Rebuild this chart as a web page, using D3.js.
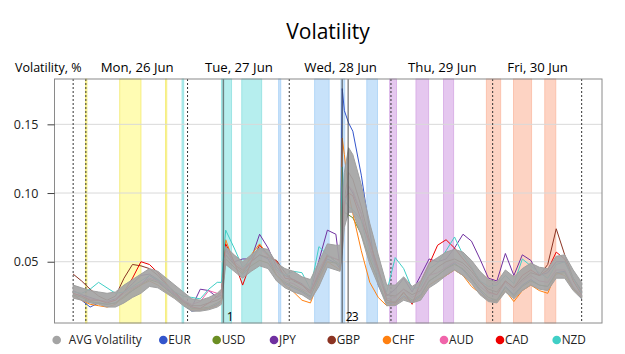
<!DOCTYPE html>
<html>
<head>
<meta charset="utf-8">
<script src="https://cdn.jsdelivr.net/npm/d3@7"></script>
<style>
body { margin: 0; background: #fff; }
text { font-family: "Segoe UI", "Open Sans", sans-serif; }
</style>
</head>
<body>
<div id="chart"></div>
<script>
////////////////////////////////////////////////////////////
///////////////////////// Data /////////////////////////////
////////////////////////////////////////////////////////////

//Hours from Mon 26 Jun 00:00
var hours = [-3,-1,1,3,5,7,9,11,13,15,17,19,21,23,25,27,29,31,32,33,35,37,39,41,43,45,47,49,51,53,55,57,59,60,60.5,61,62,63,65,67,69,71,73,75,77,79,81,83,85,87,89,91,93,95,97,99,101,103,105,107,109,111,113,115,117];

var dayNames = ["Mon, 26 Jun", "Tue, 27 Jun", "Wed, 28 Jun", "Thu, 29 Jun", "Fri, 30 Jun"];
var dataStart = -3, dataEnd = 117;
var dayLines = [-3, 0, 24, 48, 72, 96, 117];
var yTicks = [0.05, 0.10, 0.15];

//[start hour, end hour, day]
var sessionBands = [[-0.1,0.25,0],[8,13,0],[18.8,19.1,0],[22.7,23.1,1],[32,34.4,1],[36.8,41.5,1],[45.5,46,2],[54,57.4,2],[60.2,61.1,2],[66.3,68.8,2],[71.7,73.3,3],[77.9,80.9,3],[84.4,86.8,3],[94.5,97.9,4],[100.9,105.2,4],[108.3,110.9,4]];

var eventHours = [32.45, 60.5, 61.9];
var eventLabels = ["1", "2", "3"];

//Spread of the average volatility lines
var avgHigh = [0.033,0.031,0.029,0.028,0.027,0.028,0.033,0.037,0.041,0.045,
	0.043,0.038,0.033,0.028,0.023,0.022,0.024,0.027,0.030,0.061,
	0.055,0.050,0.055,0.060,0.059,0.049,0.045,0.043,0.039,0.037,
	0.050,0.063,0.062,0.062,0.085,0.115,0.133,0.128,0.106,0.078,
	0.055,0.033,0.033,0.039,0.032,0.036,0.049,0.053,0.057,0.059,
	0.057,0.051,0.043,0.037,0.035,0.044,0.039,0.045,0.049,0.046,
	0.045,0.054,0.055,0.044,0.035];
var avgLow = [0.0235,0.022,0.020,0.019,0.017,0.017,0.020,0.024,0.027,0.032,
	0.031,0.027,0.023,0.018,0.014,0.014,0.015,0.017,0.019,0.048,
	0.043,0.038,0.043,0.047,0.045,0.036,0.031,0.028,0.026,0.022,
	0.032,0.046,0.044,0.043,0.056,0.075,0.086,0.086,0.069,0.048,
	0.033,0.018,0.018,0.022,0.020,0.022,0.031,0.035,0.040,0.044,
	0.040,0.034,0.026,0.021,0.020,0.028,0.023,0.029,0.033,0.030,
	0.029,0.038,0.038,0.029,0.023];

var eur = [0.026,0.022,0.017,0.020,0.019,0.020,0.025,0.029,0.033,0.040,
	0.036,0.030,0.025,0.019,0.014,0.015,0.016,0.019,0.022,0.060,
	0.048,0.042,0.050,0.055,0.052,0.040,0.034,0.031,0.028,0.024,
	0.040,0.052,0.049,0.045,0.176,0.160,0.151,0.145,0.113,0.072,
	0.033,0.020,0.020,0.025,0.021,0.025,0.036,0.040,0.045,0.049,
	0.044,0.037,0.029,0.022,0.022,0.032,0.026,0.033,0.037,0.033,
	0.032,0.042,0.043,0.031,0.023];
var usd = [0.026,0.024,0.021,0.020,0.019,0.020,0.024,0.029,0.033,0.037,
	0.035,0.030,0.025,0.020,0.016,0.016,0.017,0.020,0.022,0.052,
	0.046,0.041,0.047,0.051,0.049,0.040,0.035,0.032,0.029,0.025,
	0.038,0.050,0.049,0.047,0.090,0.086,0.084,0.082,0.070,0.052,
	0.036,0.020,0.021,0.027,0.022,0.026,0.036,0.040,0.045,0.048,
	0.045,0.038,0.030,0.024,0.022,0.031,0.025,0.032,0.036,0.033,
	0.032,0.041,0.042,0.031,0.024];
var jpy = [0.029,0.026,0.024,0.022,0.021,0.023,0.028,0.034,0.040,0.041,
	0.037,0.031,0.026,0.021,0.017,0.030,0.029,0.024,0.026,0.058,
	0.050,0.052,0.052,0.070,0.060,0.046,0.040,0.037,0.034,0.028,
	0.051,0.073,0.070,0.045,0.060,0.090,0.105,0.100,0.085,0.060,
	0.042,0.025,0.030,0.038,0.028,0.040,0.052,0.050,0.052,0.060,
	0.070,0.065,0.052,0.038,0.036,0.056,0.040,0.055,0.051,0.040,
	0.042,0.050,0.050,0.038,0.028];
var gbp = [0.041,0.036,0.030,0.025,0.022,0.025,0.038,0.048,0.047,0.045,
	0.040,0.033,0.028,0.022,0.018,0.018,0.020,0.022,0.024,0.055,
	0.048,0.044,0.050,0.055,0.053,0.051,0.042,0.036,0.033,0.029,
	0.040,0.054,0.052,0.051,0.070,0.095,0.115,0.110,0.090,0.065,
	0.044,0.026,0.025,0.030,0.026,0.029,0.040,0.046,0.050,0.052,
	0.049,0.043,0.035,0.030,0.028,0.036,0.031,0.037,0.042,0.040,
	0.048,0.074,0.055,0.038,0.029];
var chf = [0.025,0.022,0.019,0.018,0.017,0.019,0.025,0.030,0.033,0.036,
	0.033,0.028,0.024,0.019,0.015,0.015,0.016,0.018,0.021,0.066,
	0.049,0.042,0.055,0.063,0.055,0.040,0.033,0.028,0.022,0.020,
	0.036,0.050,0.046,0.044,0.140,0.128,0.100,0.085,0.058,0.035,
	0.024,0.018,0.019,0.024,0.020,0.024,0.033,0.037,0.040,0.044,
	0.040,0.032,0.027,0.022,0.021,0.029,0.021,0.029,0.033,0.029,
	0.027,0.042,0.040,0.030,0.024];
var aud = [0.027,0.025,0.023,0.022,0.021,0.022,0.027,0.031,0.034,0.038,
	0.036,0.032,0.027,0.022,0.019,0.021,0.029,0.027,0.026,0.058,
	0.050,0.045,0.050,0.060,0.054,0.043,0.036,0.034,0.030,0.027,
	0.045,0.055,0.052,0.050,0.075,0.095,0.105,0.102,0.085,0.060,
	0.040,0.023,0.024,0.030,0.024,0.028,0.040,0.042,0.046,0.050,
	0.047,0.040,0.032,0.027,0.026,0.035,0.029,0.036,0.040,0.036,
	0.035,0.044,0.044,0.032,0.025];
var cad = [0.027,0.025,0.022,0.022,0.020,0.022,0.028,0.038,0.050,0.048,
	0.042,0.034,0.027,0.021,0.017,0.016,0.020,0.025,0.028,0.063,
	0.050,0.033,0.050,0.062,0.055,0.050,0.038,0.037,0.033,0.027,
	0.042,0.055,0.050,0.048,0.070,0.096,0.100,0.098,0.080,0.064,
	0.045,0.022,0.020,0.028,0.019,0.035,0.048,0.062,0.066,0.060,
	0.052,0.045,0.036,0.028,0.026,0.036,0.031,0.040,0.044,0.040,
	0.044,0.057,0.052,0.036,0.026];
var nzd = [0.028,0.027,0.030,0.035,0.031,0.027,0.028,0.032,0.036,0.040,
	0.037,0.033,0.028,0.025,0.024,0.023,0.030,0.035,0.035,0.073,
	0.060,0.046,0.052,0.060,0.056,0.044,0.040,0.043,0.042,0.030,
	0.061,0.055,0.050,0.048,0.119,0.095,0.090,0.088,0.080,0.055,
	0.040,0.028,0.053,0.045,0.030,0.032,0.045,0.049,0.058,0.068,
	0.055,0.046,0.036,0.032,0.033,0.040,0.034,0.052,0.047,0.042,
	0.038,0.048,0.050,0.038,0.027];

var currencyNames = ["EUR", "USD", "JPY", "GBP", "CHF", "AUD", "CAD", "NZD"];
var currencyValues = [eur, usd, jpy, gbp, chf, aud, cad, nzd];

////////////////////////////////////////////////////////////
///////////////////////// Set-up ///////////////////////////
////////////////////////////////////////////////////////////

var width = 625, height = 354;
var margin = {top: 79, right: 23, bottom: 31, left: 54.5};
var plotRight = width - margin.right,
	plotBottom = height - margin.bottom;

var currencyColors = ["#3355cc", "#6b8e23", "#7030a0", "#8b3322", "#ff8010", "#f064aa", "#ee0000", "#40cfc6"];
var avgColor = "#a4a4a4";
var bandFill = ["#fffcb3", "#b6eeee", "#c8e2fa", "#e5c7ef", "#fdd3c3"];
var bandEdge = ["#f3ea70", "#90e0e0", "#a9d1f6", "#d5a9e4", "#fbbca5"];

var svg = d3.select("#chart").append("svg")
	.attr("width", width)
	.attr("height", height);

var x = d3.scaleLinear()
	.domain([-7.4, 121.8])
	.range([margin.left, plotRight]);

var y = d3.scaleLinear()
	.domain([0.0054, 0.183])
	.range([plotBottom, margin.top]);

//Title
svg.append("text")
	.attr("x", 328)
	.attr("y", 39)
	.attr("text-anchor", "middle")
	.style("font-size", "21px")
	.style("fill", "#000")
	.text("Volatility");

svg.append("text")
	.attr("x", 15)
	.attr("y", 72)
	.style("font-size", "12.5px")
	.style("fill", "#000")
	.text("Volatility, %");

//Day labels, centred on the part of the day that has data
svg.selectAll(".day-label")
	.data(dayNames)
	.enter().append("text")
	.attr("class", "day-label")
	.attr("x", function(d, i) {
		var s = Math.max(i * 24, dataStart), e = Math.min((i + 1) * 24, dataEnd);
		return x((s + e) / 2) + 0.5;
	})
	.attr("y", 72)
	.attr("text-anchor", "middle")
	.style("font-size", "13.2px")
	.style("fill", "#000")
	.text(function(d) { return d; });

////////////////////////////////////////////////////////////
///////////////////// Background ///////////////////////////
////////////////////////////////////////////////////////////

svg.selectAll(".band")
	.data(sessionBands)
	.enter().append("rect")
	.attr("class", "band")
	.attr("x", function(d) { return x(d[0]); })
	.attr("y", margin.top)
	.attr("width", function(d) { return Math.max(1, x(d[1]) - x(d[0])); })
	.attr("height", plotBottom - margin.top)
	.style("fill", function(d) { return bandFill[d[2]]; })
	.style("stroke", function(d) { return bandEdge[d[2]]; })
	.style("stroke-width", 0.8);

//Grid
svg.selectAll(".grid")
	.data(yTicks)
	.enter().append("line")
	.attr("class", "grid")
	.attr("x1", margin.left)
	.attr("x2", plotRight)
	.attr("y1", function(d) { return y(d); })
	.attr("y2", function(d) { return y(d); })
	.style("stroke", "#d9d9d9")
	.style("stroke-width", 1);

//Dotted day lines
svg.selectAll(".day-line")
	.data(dayLines)
	.enter().append("line")
	.attr("class", "day-line")
	.attr("x1", function(d) { return x(d); })
	.attr("x2", function(d) { return x(d); })
	.attr("y1", margin.top)
	.attr("y2", plotBottom)
	.style("stroke", "#333")
	.style("stroke-width", 1)
	.style("stroke-dasharray", "2,2");

////////////////////////////////////////////////////////////
/////////////////////// Lines //////////////////////////////
////////////////////////////////////////////////////////////

var line = d3.line()
	.x(function(d, i) { return x(hours[i]); })
	.y(function(d) { return y(d); });

svg.selectAll(".currency")
	.data(currencyValues)
	.enter().append("path")
	.attr("class", "currency")
	.attr("d", line)
	.style("fill", "none")
	.style("stroke", function(d, i) { return currencyColors[i]; })
	.style("stroke-width", 1);

//Band of the average volatility lines on top
var avgArea = d3.area()
	.x(function(d, i) { return x(hours[i]); })
	.y0(function(d, i) { return y(avgLow[i]); })
	.y1(function(d) { return y(d); });

svg.append("path")
	.attr("class", "avg-band")
	.attr("d", avgArea(avgHigh))
	.style("fill", avgColor)
	.style("fill-opacity", 0.92)
	.style("stroke", "#a0a0a0")
	.style("stroke-width", 1);

//Events
svg.selectAll(".event-line")
	.data(eventHours)
	.enter().append("line")
	.attr("class", "event-line")
	.attr("x1", function(d) { return x(d); })
	.attr("x2", function(d) { return x(d); })
	.attr("y1", margin.top)
	.attr("y2", plotBottom)
	.style("stroke", "#3a3a3a")
	.style("stroke-opacity", 0.6)
	.style("stroke-width", 1.5);

svg.selectAll(".event-label")
	.data(eventHours)
	.enter().append("text")
	.attr("class", "event-label")
	.attr("x", function(d) { return x(d) + 3.5; })
	.attr("y", plotBottom - 2)
	.style("font-size", "12px")
	.style("fill", "#000")
	.text(function(d, i) { return eventLabels[i]; });

////////////////////////////////////////////////////////////
/////////////////////// Axis ///////////////////////////////
////////////////////////////////////////////////////////////

//Frame
svg.append("rect")
	.attr("x", margin.left)
	.attr("y", margin.top)
	.attr("width", plotRight - margin.left)
	.attr("height", plotBottom - margin.top)
	.style("fill", "none")
	.style("stroke", "#8a8a8a")
	.style("stroke-width", 1);

var yAxis = svg.append("g")
	.attr("transform", "translate(" + margin.left + ",0)")
	.call(d3.axisLeft(y).tickValues(yTicks).tickSize(7).tickPadding(9).tickFormat(d3.format(".2f")));
yAxis.select(".domain").remove();
yAxis.selectAll("line").style("stroke", "#404040");
yAxis.selectAll("text")
	.style("font-size", "12.5px")
	.style("font-family", "'Segoe UI', 'Open Sans', sans-serif")
	.style("fill", "#222");

////////////////////////////////////////////////////////////
/////////////////////// Legend /////////////////////////////
////////////////////////////////////////////////////////////

var legendNames = ["AVG Volatility"].concat(currencyNames);
var legendColors = [avgColor].concat(currencyColors);
var legendX = [56.7, 163.3, 216.7, 274, 331.7, 387, 444, 500, 556.7];
var legendY = 340;

var legend = svg.selectAll(".legend")
	.data(legendNames)
	.enter().append("g")
	.attr("class", "legend")
	.attr("transform", function(d, i) { return "translate(" + legendX[i] + "," + legendY + ")"; });

legend.append("circle")
	.attr("r", 4.3)
	.style("fill", function(d, i) { return legendColors[i]; });

legend.append("text")
	.attr("x", function(d, i) { return i === 0 ? 12 : 5; })
	.attr("dy", "0.35em")
	.style("font-size", "11.8px")
	.style("fill", "#222")
	.text(function(d) { return d; });
</script>
</body>
</html>
